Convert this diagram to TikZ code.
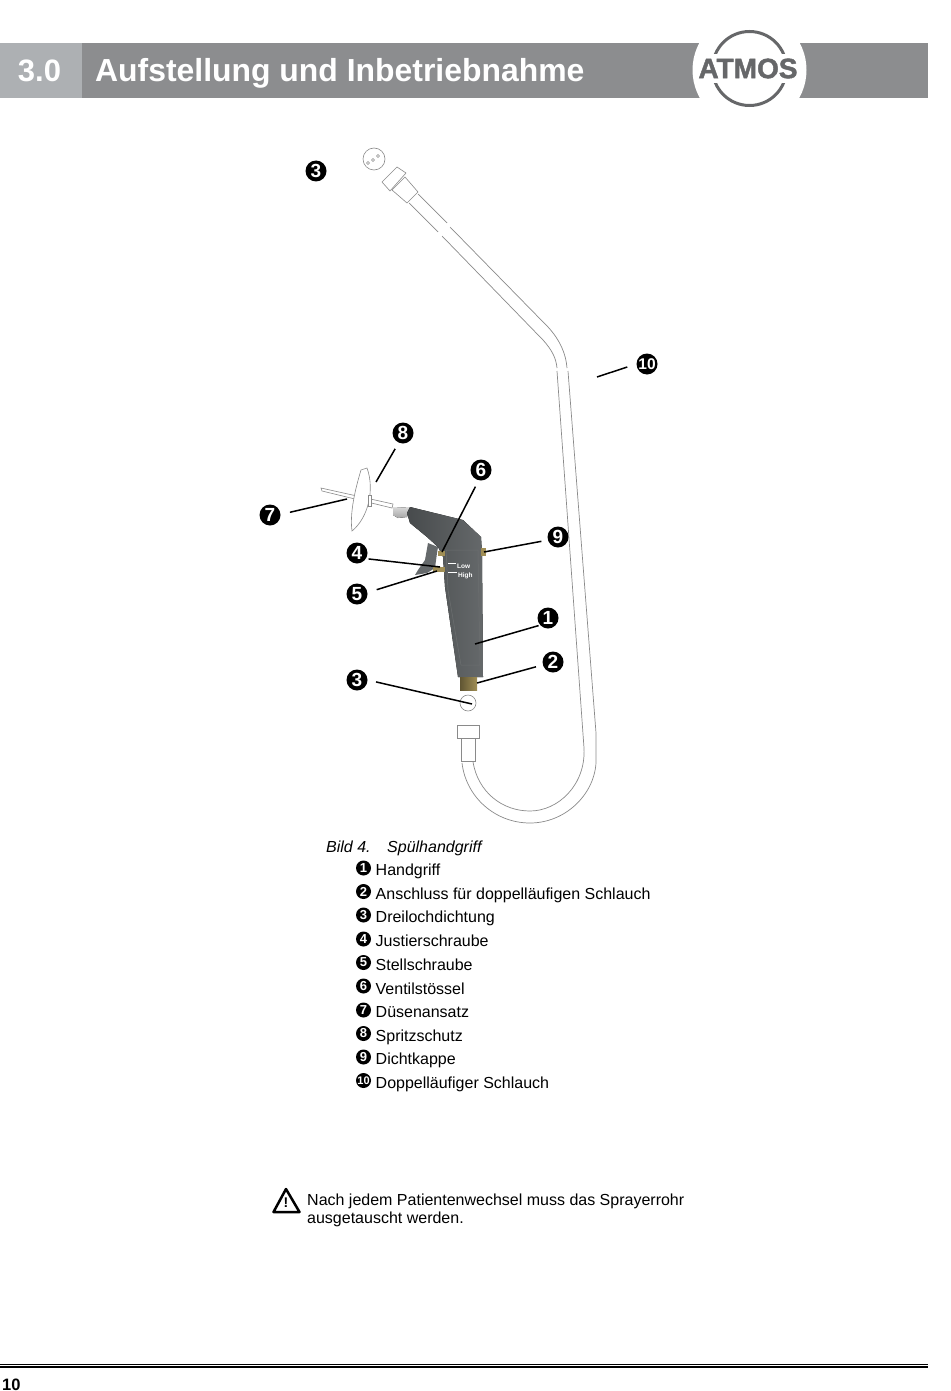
\documentclass[tikz,border=0pt]{standalone}
\usepackage{fontspec}
\setmainfont{Liberation Sans}
\newfontfamily\logofont[FakeBold=1.6]{Liberation Sans Bold}
\definecolor{barlight}{HTML}{ADB0B3}
\definecolor{bardark}{HTML}{8C8D8F}
\definecolor{logogray}{HTML}{666769}
\definecolor{gunbody}{HTML}{54585A}
\definecolor{gunedge}{HTML}{6C6F70}
\definecolor{brass}{HTML}{A08E55}
\definecolor{hosegray}{HTML}{8A8A8A}
\tikzstyle{callnum}=[circle, fill=black, text=white, inner sep=0pt, minimum size=21pt, font=\fontsize{19}{19}\selectfont\bfseries]
\tikzstyle{listnum}=[circle, fill=black, text=white, inner sep=0pt, minimum size=15pt, font=\fontsize{13}{13}\selectfont\bfseries]
\tikzstyle{listtext}=[anchor=base west, inner sep=0pt, font=\fontsize{16}{16}\selectfont]
\tikzstyle{callline}=[draw, line width=1.5pt]
\tikzstyle{hoseline}=[draw=hosegray, line width=0.7pt]
\tikzstyle{partline}=[draw=hosegray, line width=0.6pt, fill=white]
\begin{document}
\begin{tikzpicture}[x=1pt, y=-1pt]
        \useasboundingbox (0, 0) rectangle (950, 1391);
        \fill[bardark] (82, 43) rectangle (928, 98);
        \fill[barlight] (0, 43) rectangle (82, 98);
        \node[anchor=base, text=white, inner sep=0pt, font=\fontsize{31}{31}\selectfont\bfseries] (chapter) at (39.5, 81.5) {3.0};
        \node[anchor=base west, text=white, inner sep=0pt, font=\fontsize{31.9}{31.9}\selectfont\bfseries] (title) at (95, 81.5) {Aufstellung und Inbetriebnahme};
        \fill[white] (749.5, 70) circle (57);
        \draw[logogray, line width=3pt] (749.5, 68.5) circle (37);
        \fill[white] (698, 54) rectangle (801, 83);
        \node[text=logogray, inner sep=0pt, font=\fontsize{28}{28}\logofont\selectfont] (logo) at (748, 68.5) {ATMOS};

        \draw[partline] (374, 159) circle (11);
        \draw[hosegray, line width=0.5pt] (368, 163) circle (1.5) (373, 160) circle (1.5) (378, 156) circle (1.5);
        \draw[partline] (382, 182) -- (397, 167) -- (406, 173) -- (390, 191) -- cycle;
        \draw[partline] (392, 190) -- (405, 177) -- (418, 192) -- (407, 203) -- cycle;
        \draw[hoseline] (409, 203) -- (438, 232);
        \draw[hoseline] (418, 194) -- (447, 223);
        \draw[hoseline] (442, 236) -- (543, 340) .. controls (552, 350) and (556, 358) .. (557, 368);
        \draw[hoseline] (450, 227) -- (548, 327) .. controls (560, 340) and (566, 354) .. (567, 368);
        \draw[hoseline] (557, 371) -- (584, 748) .. controls (586, 785) and (558, 811) .. (530, 811) .. controls (502, 811) and (478, 792) .. (473, 762);
        \draw[hoseline] (568, 371) -- (596, 733) -- (596, 763) .. controls (594, 795) and (565, 823) .. (530, 823) .. controls (495, 823) and (466, 797) .. (462, 763);
        \draw[partline] (461, 738) rectangle (475, 761);
        \draw[partline] (457, 725) rectangle (479, 738);
        \draw[partline] (468, 703) circle (8);

        \draw[partline] (321, 488) -- (322, 491) -- (392, 508) -- (393, 504) -- cycle;
        \draw[partline] (367, 468) .. controls (375, 490) and (368, 518) .. (352, 531) .. controls (349, 510) and (358, 480) .. (361, 470) -- cycle;
        \draw[partline] (368, 495) rectangle (371, 506);
        \fill[top color=gray!30, bottom color=gray!70] (393, 508) -- (410, 507) -- (407, 517) -- (398, 518) -- (393, 515) -- cycle;
        \fill[gunbody!90] (428, 543) -- (438, 547) -- (437, 553) -- (435, 568) -- (427, 573) -- (415, 575) -- (418, 570) -- (425, 560) -- cycle;
        \fill[left color=gunbody!85!black, right color=gunbody!90!white] (410, 507) -- (463, 520) -- (481, 537) -- (482, 553) -- (483, 677) -- (458, 677) -- (445, 587) -- (443, 557) -- (438, 547) -- (427, 537) -- (410, 523) -- (407, 513) -- cycle;
        \draw[gunedge, line width=0.5pt] (446, 550) -- (478, 550) -- (480, 665) -- (461, 665) -- (448, 590) -- cycle;
        \fill[brass] (433, 567) rectangle (445, 572);
        \fill[brass] (438, 551) rectangle (445, 556);
        \fill[brass] (481, 548) rectangle (486, 556);
        \fill[left color=brass!60!black, right color=brass] (460, 677) rectangle (477, 690);
        \draw[white, line width=0.6pt] (448, 563) -- (456, 563);
        \draw[white, line width=0.6pt] (448, 572) -- (457, 572);
        \node[anchor=west, text=white, inner sep=0pt, font=\fontsize{6.5}{6.5}\selectfont\bfseries] (low) at (457, 566) {Low};
        \node[anchor=west, text=white, inner sep=0pt, font=\fontsize{6.5}{6.5}\selectfont\bfseries] (high) at (458, 576) {High};

        \node[callnum] (n8) at (403, 433) {8};
        \node[callnum] (n6) at (481, 470) {6};
        \node[callnum] (n7) at (270, 515) {7};
        \node[callnum] (n4) at (357, 553) {4};
        \node[callnum] (n5) at (357, 594) {5};
        \node[callnum] (n9) at (558, 537) {9};
        \node[callnum] (n1) at (548, 618) {1};
        \node[callnum] (n2) at (553, 662) {2};
        \node[callnum] (n3) at (357, 680) {3};
        \node[callnum] (n3top) at (316, 171) {3};
        \node[callnum, font=\fontsize{15.5}{15.5}\selectfont\bfseries] (n10) at (647, 364) {10};
        \coordinate (c8) at (376, 482);
        \coordinate (c7) at (347, 499);
        \coordinate (c6) at (442, 552);
        \coordinate (c4) at (440, 567);
        \coordinate (c5) at (437, 571);
        \coordinate (c9) at (484, 552);
        \coordinate (c1) at (475, 644);
        \coordinate (c2) at (477, 683);
        \coordinate (c3) at (472, 704);
        \coordinate (c10) at (597, 377);
        \draw[callline, shorten <=7pt] (n8.246) -- (c8);
        \draw[callline, shorten <=9.5pt] (n7.3) -- (c7);
        \draw[callline, shorten <=7pt] (n6.257) -- (c6);
        \draw[callline, shorten <=2.5pt] (n4.328) -- (c4);
        \draw[callline, shorten <=9.5pt] (n5.8) -- (c5);
        \draw[callline, shorten <=6.5pt] (n9.197) -- (c9);
        \draw[callline, shorten <=1.5pt] (n1.222) -- (c1);
        \draw[callline, shorten <=7pt] (n2.196) -- (c2);
        \draw[callline, shorten <=8.5pt] (n3.0) -- (c3);
        \draw[callline, shorten <=9.5pt] (n10.180) -- (c10);

        \node[anchor=base west, inner sep=0pt, font=\fontsize{16}{16}\selectfont\itshape] (figno) at (326, 852) {Bild 4.};
        \node[anchor=base west, inner sep=0pt, font=\fontsize{16}{16}\selectfont\itshape] (figname) at (387, 852) {Spülhandgriff};
        \node[listnum] (l1) at (363.5, 868) {1};
        \node[listnum] (l2) at (363.5, 891.5) {2};
        \node[listnum] (l3) at (363.5, 915) {3};
        \node[listnum] (l4) at (363.5, 939) {4};
        \node[listnum] (l5) at (363.5, 962.5) {5};
        \node[listnum] (l6) at (363.5, 986) {6};
        \node[listnum] (l7) at (363.5, 1010) {7};
        \node[listnum] (l8) at (363.5, 1033.5) {8};
        \node[listnum] (l9) at (363.5, 1057) {9};
        \node[listnum, font=\fontsize{11}{11}\selectfont\bfseries] (l10) at (363.5, 1080.5) {10};
        \node[listtext] (t1) at (375.5, 875.5) {Handgriff};
        \node[listtext] (t2) at (375.5, 899) {Anschluss für doppelläufigen Schlauch};
        \node[listtext] (t3) at (375.5, 922.5) {Dreilochdichtung};
        \node[listtext] (t4) at (375.5, 946.5) {Justierschraube};
        \node[listtext] (t5) at (375.5, 970) {Stellschraube};
        \node[listtext] (t6) at (375.5, 994) {Ventilstössel};
        \node[listtext] (t7) at (375.5, 1017.5) {Düsenansatz};
        \node[listtext] (t8) at (375.5, 1041) {Spritzschutz};
        \node[listtext] (t9) at (375.5, 1064.5) {Dichtkappe};
        \node[listtext] (t10) at (375.5, 1088) {Doppelläufiger Schlauch};

        \draw[line width=2.5pt, line join=round] (273.5, 1212) -- (286, 1189) -- (299.5, 1212) -- cycle;
        \node[inner sep=0pt, font=\fontsize{14}{14}\selectfont\bfseries] (warnmark) at (286, 1203) {!};
        \node[listtext] (warn1) at (307, 1205) {Nach jedem Patientenwechsel muss das Sprayerrohr};
        \node[listtext] (warn2) at (307, 1223) {ausgetauscht werden.};

        \draw[line width=0.6pt] (0, 1364.5) -- (928, 1364.5);
        \draw[line width=1.6pt] (0, 1367) -- (928, 1367);
        \node[anchor=base west, inner sep=0pt, font=\fontsize{16.5}{16.5}\selectfont\bfseries] (pagenum) at (2, 1390) {10};
    \end{tikzpicture}
\end{document}
